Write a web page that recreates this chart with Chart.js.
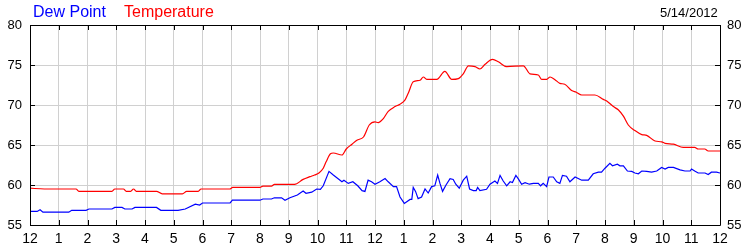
<!DOCTYPE html>
<html>
<head>
<meta charset="utf-8">
<script src="https://cdn.jsdelivr.net/npm/chart.js@4/dist/chart.umd.min.js"></script>
<style>
  html, body { margin: 0; padding: 0; background: #fff; }
  #wrap { position: relative; width: 750px; height: 250px; overflow: hidden; }
  canvas { position: absolute; left: 0; top: 0; }
  .hdr { position: absolute; font-family: "Liberation Sans", Arial, sans-serif; white-space: nowrap; line-height: 1; }
</style>
</head>
<body>
<div id="wrap">
  <canvas id="c" width="750" height="250"></canvas>
  <div class="hdr" style="left:33px; top:4px; font-size:16px; color:#0000ff;">Dew Point</div>
  <div class="hdr" style="left:124px; top:4px; font-size:16px; color:#ff0000;">Temperature</div>
  <div class="hdr" style="left:660px; top:6px; font-size:13px; color:#000;">5/14/2012</div>
</div>
<script>
// ---- data (hours since midnight, degrees F) ----
const tempHours = [0,0.5,1.6,1.7,2.85,2.95,3.25,3.35,3.5,3.6,3.7,4.4,4.6,5.3,5.45,5.85,5.95,6.95,7.05,8.0,8.1,8.4,8.5,9.2,9.5,9.74,9.9,10.05,10.2,10.3,10.45,10.55,10.85,11.0,11.2,11.37,11.6,11.8,12.0,12.11,12.29,12.46,12.7,12.87,13.04,13.16,13.33,13.57,13.68,13.8,14.15,14.43,14.67,14.9,15.07,15.25,15.48,15.65,15.83,16.09,16.29,16.58,17.16,17.39,17.68,17.8,17.97,18.09,18.25,18.43,18.6,18.84,19.0,19.19,19.65,19.94,20.06,20.29,20.46,20.64,20.81,21.04,21.28,21.45,21.74,21.97,22.09,22.38,22.72,23.12,23.24,23.47,23.59,24];
const tempValues = [59.6,59.5,59.5,59.2,59.2,59.5,59.5,59.2,59.2,59.5,59.2,59.2,58.9,58.9,59.2,59.2,59.5,59.5,59.7,59.7,59.87,59.87,60.08,60.08,60.7,61.04,61.25,61.5,62.1,62.9,63.9,64.0,63.75,64.5,65.1,65.6,66.0,67.5,67.9,67.8,68.3,69.2,69.8,70.1,70.6,71.5,72.9,73.1,73.5,73.2,73.2,74.2,73.2,73.3,73.9,74.9,74.8,74.5,75.1,75.7,75.4,74.8,74.9,73.9,73.75,73.2,73.2,73.5,73.2,72.7,72.6,71.8,71.6,71.25,71.25,70.7,70.5,69.8,69.4,68.6,67.5,66.8,66.3,66.2,65.5,65.4,65.2,65.1,64.7,64.7,64.5,64.5,64.25,64.25];

const dewHours = [0,0.25,0.35,0.45,1.35,1.45,1.95,2.05,2.85,2.95,3.2,3.3,3.55,3.65,4.4,4.55,5.15,5.4,5.75,5.9,6.0,6.96,7.04,8.0,8.1,8.4,8.5,8.75,8.87,9.04,9.3,9.5,9.6,9.8,9.97,10.1,10.2,10.4,10.55,10.85,10.92,11.07,11.23,11.4,11.55,11.65,11.76,11.88,12.0,12.17,12.35,12.46,12.64,12.75,12.87,13.02,13.22,13.28,13.33,13.41,13.5,13.62,13.74,13.85,13.97,14.08,14.18,14.26,14.35,14.47,14.61,14.72,14.81,14.93,15.07,15.19,15.29,15.42,15.52,15.57,15.65,15.88,16.0,16.17,16.26,16.35,16.46,16.58,16.7,16.78,16.9,16.98,17.1,17.22,17.37,17.51,17.68,17.76,17.85,17.97,18.05,18.2,18.32,18.43,18.52,18.66,18.78,18.96,19.19,19.42,19.59,19.77,19.88,20.0,20.17,20.26,20.43,20.52,20.64,20.78,20.93,21.04,21.16,21.28,21.45,21.62,21.8,21.97,22.09,22.2,22.38,22.61,22.78,22.96,23.01,23.12,23.24,23.48,23.59,23.7,23.88,24];
const dewValues = [56.7,56.7,56.9,56.6,56.6,56.84,56.84,57.0,57.0,57.2,57.2,57.0,57.0,57.2,57.2,56.84,56.84,57.0,57.6,57.5,57.75,57.75,58.1,58.1,58.25,58.25,58.4,58.4,58.1,58.4,58.75,59.25,58.96,59.1,59.5,59.45,59.9,61.7,61.25,60.4,60.6,60.2,60.4,59.9,59.3,59.2,60.6,60.4,60.1,60.4,60.8,60.4,59.8,59.8,58.5,57.7,58.2,58.2,59.7,59.2,58.3,58.5,59.5,59.0,59.8,59.9,61.25,60.2,59.2,60.0,60.8,60.7,60.1,59.6,60.6,61.1,59.5,59.3,59.3,59.7,59.3,59.46,60.1,60.5,60.2,61.2,60.5,59.9,60.4,60.3,61.2,60.8,60.1,60.3,60.1,60.2,60.2,59.9,60.2,59.8,61.0,61.0,60.4,60.2,61.2,61.1,60.4,61.0,60.6,60.6,61.4,61.6,61.6,62.1,62.7,62.4,62.6,62.4,62.4,61.75,61.7,61.5,61.4,61.75,61.7,61.6,61.75,62.2,62.0,62.2,62.2,61.9,61.75,61.75,62.0,61.75,61.5,61.5,61.3,61.6,61.6,61.5];

const hourLabels = ['12','1','2','3','4','5','6','7','8','9','10','11','12','1','2','3','4','5','6','7','8','9','10','11','12'];
const yTicks = [55,60,65,70,75,80];

const toPts = (xs, ys) => xs.map((x, i) => ({x: x, y: ys[i]}));

const FONT = '"Liberation Sans", Arial, sans-serif';

// draws the frame and the short inward tick marks using the chart's scales
const framePlugin = {
  id: 'frame',
  afterDatasetsDraw(chart) {
    const ctx = chart.ctx, a = chart.chartArea;
    const xs = chart.scales.x, ys = chart.scales.y;
    ctx.save();
    ctx.strokeStyle = '#000';
    ctx.lineWidth = 1;
    ctx.beginPath();
    ctx.rect(Math.round(a.left) + 0.5, Math.round(a.top) + 0.5, Math.round(a.right - a.left), Math.round(a.bottom - a.top));
    ctx.stroke();
    ctx.beginPath();
    for (let h = 0; h <= 24; h++) {
      const px = Math.round(xs.getPixelForValue(h)) + 0.5;
      ctx.moveTo(px, a.top); ctx.lineTo(px, a.top + 5);
      ctx.moveTo(px, a.bottom); ctx.lineTo(px, a.bottom - 5);
    }
    yTicks.forEach(v => {
      const py = Math.round(ys.getPixelForValue(v)) + 0.5;
      ctx.moveTo(a.left, py); ctx.lineTo(a.left + 5, py);
      ctx.moveTo(a.right, py); ctx.lineTo(a.right - 5, py);
    });
    ctx.stroke();
    ctx.restore();
  }
};

new Chart(document.getElementById('c'), {
  type: 'line',
  data: {
    datasets: [
      { label: 'Temperature', data: toPts(tempHours, tempValues), borderColor: '#ff0000', borderWidth: 1.2, pointRadius: 0, cubicInterpolationMode: 'monotone', fill: false },
      { label: 'Dew Point', data: toPts(dewHours, dewValues), borderColor: '#0000ff', borderWidth: 1.2, pointRadius: 0, tension: 0, fill: false }
    ]
  },
  options: {
    responsive: false,
    animation: false,
    devicePixelRatio: 1,
    layout: { padding: { top: 25, left: 0, right: 0, bottom: 0 } },
    plugins: { legend: { display: false }, tooltip: { enabled: false }, title: { display: false } },
    scales: {
      x: {
        type: 'linear', min: 0, max: 24,
        afterBuildTicks: s => { s.ticks = hourLabels.map((_, i) => ({ value: i })); },
        afterFit: s => { s.height = 25; },
        grid: { color: '#d0d0d0', lineWidth: 1, drawTicks: false },
        border: { display: false },
        ticks: { padding: 6, color: '#000', font: { family: FONT, size: 14 }, maxRotation: 0, autoSkip: false,
                 callback: (v, i) => hourLabels[i] }
      },
      y: {
        position: 'left', min: 55, max: 80,
        afterBuildTicks: s => { s.ticks = yTicks.map(v => ({ value: v })); },
        afterFit: s => { s.width = 30; },
        grid: { color: '#d0d0d0', lineWidth: 1, drawTicks: false },
        border: { display: false },
        ticks: { padding: 8, color: '#000', font: { family: FONT, size: 13 } }
      },
      y2: {
        position: 'right', min: 55, max: 80,
        afterBuildTicks: s => { s.ticks = yTicks.map(v => ({ value: v })); },
        afterFit: s => { s.width = 30; },
        grid: { display: false, drawTicks: false },
        border: { display: false },
        ticks: { padding: 7, color: '#000', font: { family: FONT, size: 13 } }
      }
    }
  },
  plugins: [framePlugin]
});
</script>
</body>
</html>
